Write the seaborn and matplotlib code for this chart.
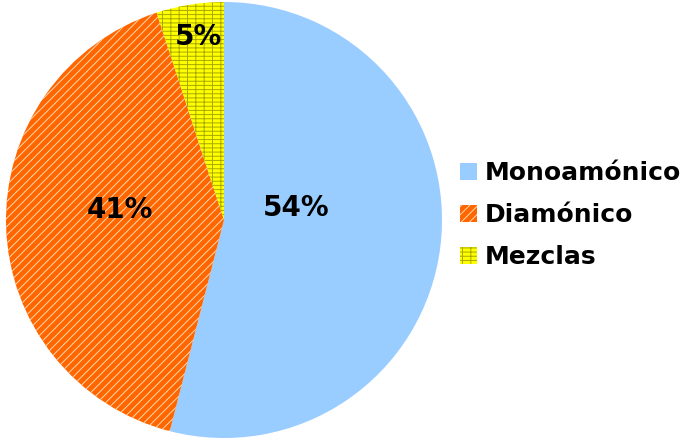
import numpy as np
import matplotlib
matplotlib.use("Agg")
import matplotlib.pyplot as plt
import seaborn as sns

labels = ["Monoamónico", "Diamónico", "Mezclas"]
values = [54, 41, 5]
colors = ["#99CCFF", "#FF6600", "#FFFF00"]
hatch_colors = ["#99CCFF", "#FFD9B0", "#A8A800"]
hatches = [None, "////", "----||"]

sns.set_style("white")
plt.rcParams["font.family"] = ["Verdana", "DejaVu Sans"]
plt.rcParams["text.color"] = "black"
plt.rcParams["hatch.linewidth"] = 0.7

fig = plt.figure(figsize=(6.89, 4.45), dpi=100)
ax = fig.add_axes([6 / 689, 7 / 445, 436 / 689, 436 / 445])

wedges, _ = ax.pie(values, colors=colors, startangle=90, counterclock=False,
                   wedgeprops=dict(linewidth=0))
for w, hc, h in zip(wedges, hatch_colors, hatches):
    w.set_edgecolor(hc)
    w.set_linewidth(0)
    if h:
        w.set_hatch(h)

# label placement (radius, angle in degrees) like Excel's data labels
label_r = [0.335, 0.48, 0.85]
label_ang = [9.5, 174.5, 98]
for v, r, a in zip(values, label_r, label_ang):
    t = np.deg2rad(a)
    ax.text(r * np.cos(t), r * np.sin(t), f"{v}%",
            ha="center", va="center", fontsize=20, fontweight="bold")

ax.set_xlim(-1, 1)
ax.set_ylim(-1, 1)
ax.set_aspect("equal")
ax.axis("off")

leg = fig.legend(wedges, labels, loc="center left",
                 bbox_to_anchor=(437 / 689, 1 - 215 / 445), frameon=False,
                 prop=dict(size=18, weight="bold"), handlelength=0.7,
                 handleheight=0.7, handletextpad=0.3, labelspacing=0.72)

fig.savefig("out.png", dpi=100, facecolor="white")
